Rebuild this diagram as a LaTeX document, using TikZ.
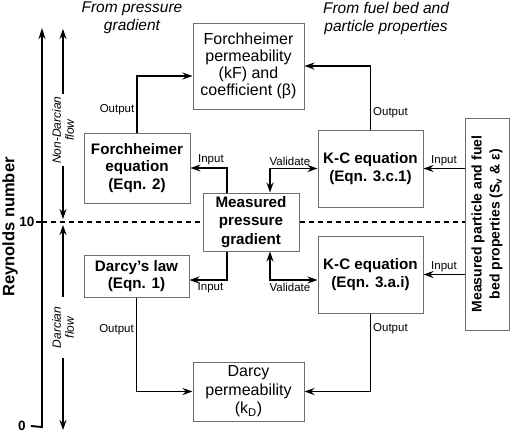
\documentclass[tikz,border=0pt]{standalone}
\usepackage{fontspec}
\setmainfont{Liberation Sans}
\usepackage{tikz}
\usetikzlibrary{arrows.meta,positioning,calc}
\definecolor{boxline}{HTML}{6E6E6E}
\definecolor{ink}{HTML}{000000}
\tikzset{
  eqbox/.style={
    draw=boxline, fill=white, line width=1pt,
    align=center, inner sep=2pt,
  },
  arrow/.style={-{Stealth[length=10pt,width=7pt]}, line width=1.4pt, color=ink},
  twoarrow/.style={{Stealth[length=10pt,width=7pt]}-{Stealth[length=10pt,width=7pt]}, line width=1.4pt, color=ink},
  lbl/.style={font=\fontsize{11.5}{13}\selectfont, inner sep=2pt},
}

\begin{document}
\begin{tikzpicture}[
  x=1pt, y=-1pt,
  boldbox/.style={eqbox, font=\fontsize{15.2}{17.5}\selectfont\bfseries},
  plainbox/.style={eqbox, font=\fontsize{16}{17}\selectfont},
  heading/.style={font=\fontsize{15.5}{18}\selectfont\itshape, align=center},
  flowlbl/.style={rotate=90, font=\fontsize{12}{13}\selectfont\itshape, align=center, inner sep=2pt},
  axisline/.style={-{Stealth[length=11pt,width=7pt]}, line width=1.9pt},
  dashline/.style={dashed, dash pattern=on 5pt off 4pt, line width=1.3pt},
  ticklbl/.style={font=\fontsize{13.5}{15}\selectfont\bfseries, inner sep=1pt}
]
  \useasboundingbox (0,0) rectangle (510,434);

  \node[heading] (fromgrad) at (132,18) {From pressure\\gradient};
  \node[heading] (fromfuel) at (386,18) {From fuel bed and\\particle properties};

  \node[plainbox, minimum width=111pt, minimum height=86pt] (fperm) at (248.5,66)
    {Forchheimer\\permeability\\(kF) and\\coefficient (β)};
  \node[boldbox, minimum width=106pt, minimum height=70pt] (feq) at (137,168)
    {Forchheimer\\equation\\(Eqn. 2)};
  \node[boldbox, minimum width=105pt, minimum height=77pt] (kcnd) at (370.5,168.5)
    {K-C equation\\(Eqn. 3.c.1)};
  \node[boldbox, minimum width=96pt, minimum height=58pt, font=\fontsize{15.2}{18.5}\selectfont\bfseries] (grad) at (251,222)
    {Measured\\pressure\\gradient};
  \node[boldbox, minimum width=105pt, minimum height=42pt] (darcy) at (136.5,276)
    {Darcy's law\\(Eqn. 1)};
  \node[boldbox, minimum width=105pt, minimum height=77pt] (kcd) at (370.5,274.5)
    {K-C equation\\(Eqn. 3.a.i)};
  \node[plainbox, minimum width=111pt, minimum height=59pt, font=\fontsize{16}{18.5}\selectfont] (dperm) at (248.5,391.5)
    {Darcy\\permeability\\(k\textsubscript{D})};
  \node[boldbox, rotate=90, minimum width=212pt, minimum height=44pt, font=\fontsize{14}{18}\selectfont\bfseries] (meas) at (487,224)
    {Measured particle and fuel\\bed properties (S\textsubscript{v} \& ε)};

  \node[rotate=90, font=\fontsize{16.5}{18}\selectfont\bfseries] (renum) at (10,227) {Reynolds number};
  \node[ticklbl] (zero) at (22,426) {0};
  \node[ticklbl] (ten) at (27,222) {10};
  \coordinate (rebase) at (42,427);
  \coordinate (retop) at (42,28);
  \draw[axisline] ([xshift=4pt]zero.east) -- (rebase) -- (retop);
  \draw[line width=1.4pt] (ten.east) -- (ten.east -| rebase);
  \draw[dashline] (ten.east -| rebase) -- (grad.west);
  \draw[dashline] (grad.east) -- (grad.east -| meas.north);

  \node[flowlbl] (nondarcy) at (63,130) {Non-Darcian\\flow};
  \coordinate (ndtop) at (63,29);
  \coordinate (ndbot) at (63,219);
  \draw[arrow] (nondarcy.east) -- (ndtop);
  \draw[arrow] (nondarcy.west) -- (ndbot);
  \node[flowlbl, minimum width=61pt] (darcyflow) at (63,327.5) {Darcian\\flow};
  \coordinate (dtop) at (63,225);
  \coordinate (dbot) at (63,430);
  \draw[arrow] (darcyflow.east) -- (dtop);
  \draw[arrow] (darcyflow.west) -- (dbot);

  \draw[arrow] (feq.north) |- node[lbl, pos=0.2, left] {Output} ([yshift=-10pt]fperm.west);
  \draw[arrow] (kcnd.north) |- node[lbl, pos=0.13, right] {Output} (fperm.east);
  \draw[arrow] ([xshift=-24pt]grad.north) |- node[lbl, pos=0.72, above] {Input} (feq.east);
  \draw[twoarrow] ([xshift=19pt]grad.north) |- node[lbl, pos=0.71, above] {Validate} (kcnd.west);
  \draw[arrow] ([xshift=-24pt]grad.south) |- node[lbl, pos=0.72, below] {Input} ([yshift=-4pt]darcy.east);
  \draw[twoarrow] ([xshift=19pt]grad.south) |- node[lbl, pos=0.71, below] {Validate} ([yshift=-5.5pt]kcd.west);
  \draw[arrow] (darcy.south) |- node[lbl, pos=0.17, left] {Output} (dperm.west);
  \draw[arrow] (kcd.south) |- node[lbl, pos=0.1, right] {Output} (dperm.east);
  \draw[arrow] (kcnd.east -| meas.north) -- node[lbl, above] {Input} (kcnd.east);
  \draw[arrow] (kcd.east -| meas.north) -- node[lbl, above] {Input} (kcd.east);

\end{tikzpicture}
\end{document}
